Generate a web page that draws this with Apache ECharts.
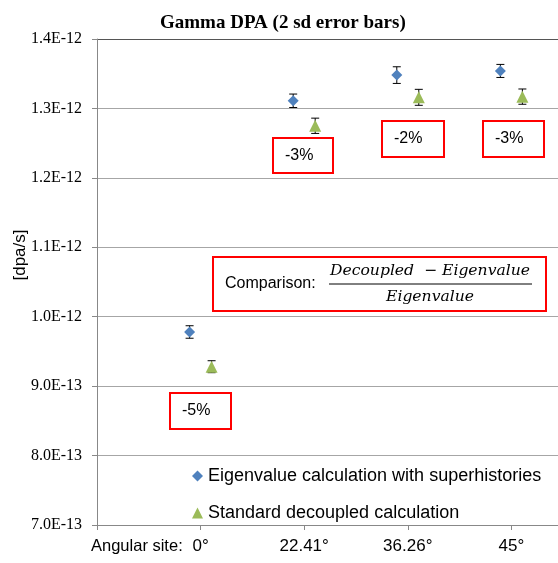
<!DOCTYPE html>
<html>
<head>
<meta charset="utf-8">
<script src="https://cdn.jsdelivr.net/npm/echarts@6/dist/echarts.min.js"></script>
<style>
  html, body { margin: 0; padding: 0; background: #fff; }
  #main { width: 558px; height: 563px; }
</style>
</head>
<body>
<div id="main"></div>
<script>
// angular sites (x categories, placed at 1..4 on the value axis)
var sites = ['0°', '22.41°', '36.26°', '45°'];
var siteX = [1, 2, 3, 4];

// dpa/s values, in units of 1E-12
var eigenValues = [0.978, 1.311, 1.348, 1.354];
var eigenErr = [0.009, 0.0097, 0.012, 0.0094];   // 2 sd
var decoupledValues = [0.928, 1.275, 1.316, 1.317];
var decoupledErr = [0.0086, 0.011, 0.0115, 0.011];

// relative difference (decoupled - eigenvalue) / eigenvalue
var diffLabels = ['-5%', '-3%', '-2%', '-3%'];

var UNIT = 1e-12;
var FONT_SANS = '"Liberation Sans", Arial, sans-serif';
var FONT_SERIF = '"Liberation Serif", "Times New Roman", serif';

var chart = echarts.init(document.getElementById('main'));

function pts(vals) {
  return vals.map(function (v, i) { return [siteX[i], v]; });
}
function bars(vals, errs) {
  return vals.map(function (v, i) { return [siteX[i], v - errs[i], v + errs[i]]; });
}

// error bar with caps, shifted sideways like the markers
function errorBar(shift) {
  return function (params, api) {
    var top = api.coord([api.value(0), api.value(2)]);
    var bot = api.coord([api.value(0), api.value(1)]);
    var x = top[0] + shift;
    var cap = 4;
    var st = { stroke: '#000', lineWidth: 1 };
    return {
      type: 'group',
      children: [
        { type: 'line', shape: { x1: x, y1: top[1], x2: x, y2: bot[1] }, style: st },
        { type: 'line', shape: { x1: x - cap, y1: top[1], x2: x + cap, y2: top[1] }, style: st },
        { type: 'line', shape: { x1: x - cap, y1: bot[1], x2: x + cap, y2: bot[1] }, style: st }
      ]
    };
  };
}

// red boxes with the % difference, box layout in pixels
var boxPos = [
  { x: 169, y: 392, w: 61, h: 36 },
  { x: 272, y: 137, w: 60, h: 35 },
  { x: 381, y: 120, w: 62, h: 36 },
  { x: 482, y: 120, w: 61, h: 36 }
];

var graphics = diffLabels.map(function (txt, i) {
  var b = boxPos[i];
  return {
    type: 'group',
    left: b.x, top: b.y,
    children: [
      { type: 'rect', shape: { x: 0, y: 0, width: b.w, height: b.h },
        style: { fill: '#fff', stroke: '#ff0000', lineWidth: 2 } },
      { type: 'text', x: 12, y: b.h / 2,
        style: { text: txt, font: '16px ' + FONT_SANS, fill: '#000', verticalAlign: 'middle' } }
    ]
  };
});

// comparison formula box
graphics.push({
  type: 'group',
  left: 212, top: 256,
  children: [
    { type: 'rect', shape: { x: 0, y: 0, width: 333, height: 54 },
      style: { fill: '#fff', stroke: '#ff0000', lineWidth: 2 } },
    { type: 'text', x: 12, y: 27,
      style: { text: 'Comparison:', font: '16px ' + FONT_SANS, fill: '#000', verticalAlign: 'middle' } },
    { type: 'text', x: 217, y: 14,
      style: { text: 'Decoupled  − Eigenvalue', font: 'italic 15.6px "DejaVu Serif", serif', fill: '#000',
               align: 'center', verticalAlign: 'middle' } },
    { type: 'line', shape: { x1: 116, y1: 27, x2: 319, y2: 27 },
      style: { stroke: '#000', lineWidth: 1 } },
    { type: 'text', x: 217, y: 40,
      style: { text: 'Eigenvalue', font: 'italic 15.6px "DejaVu Serif", serif', fill: '#000',
               align: 'center', verticalAlign: 'middle' } }
  ]
});

// "Angular site:" prefix in front of the first x label
graphics.push({
  type: 'text', left: 91, top: 538,
  style: { text: 'Angular site:', font: '16.5px ' + FONT_SANS, fill: '#000' }
});

var option = {
  animation: false,
  title: {
    text: 'Gamma DPA (2 sd error bars)',
    left: 155, top: 9,
    textStyle: { fontFamily: FONT_SERIF, fontWeight: 'bold', fontSize: 19, color: '#000' }
  },
  grid: { left: 97, top: 39, right: 0, bottom: 38, outerBoundsMode: 'none' },
  legend: {
    orient: 'vertical',
    left: 187, top: 461,
    itemWidth: 11, itemHeight: 11,
    itemGap: 17,
    data: [
      { name: 'Eigenvalue calculation with superhistories', icon: 'diamond' },
      { name: 'Standard decoupled calculation', icon: 'triangle' }
    ],
    textStyle: { fontFamily: FONT_SANS, fontSize: 18, color: '#000', lineHeight: 20 }
  },
  xAxis: {
    type: 'value',
    min: 0, max: 4.45, interval: 1,
    splitLine: { show: false },
    axisLine: { lineStyle: { color: '#888' } },
    axisTick: { length: 5, lineStyle: { color: '#888' } },
    axisLabel: {
      margin: 13,
      fontFamily: FONT_SANS, fontSize: 17, color: '#000',
      formatter: function (v) {
        var i = siteX.indexOf(v);
        return i >= 0 ? sites[i] : '';
      }
    }
  },
  yAxis: {
    type: 'value',
    min: 0.7, max: 1.4, interval: 0.1,
    name: '[dpa/s]',
    nameLocation: 'middle',
    nameGap: 68,
    nameMoveOverlap: false,
    nameTextStyle: { fontFamily: FONT_SANS, fontSize: 17, color: '#000', padding: [0, 0, 0, 54] },
    axisLine: { show: true, lineStyle: { color: '#888' } },
    axisTick: { show: true, length: 5, lineStyle: { color: '#888' } },
    splitLine: { lineStyle: { color: ['#a6a6a6', '#a6a6a6', '#a6a6a6', '#a6a6a6', '#a6a6a6', '#a6a6a6', '#a6a6a6', '#555'] } },
    axisLabel: {
      margin: 15,
      fontFamily: FONT_SERIF, fontSize: 16, color: '#000',
      formatter: function (v) {
        return (v * UNIT).toExponential(1).toUpperCase();
      }
    }
  },
  graphic: graphics,
  series: [
    {
      name: 'eigenErr', type: 'custom', z: 2,
      renderItem: errorBar(-11),
      data: bars(eigenValues, eigenErr),
      encode: { x: 0, y: [1, 2] }
    },
    {
      name: 'decoupledErr', type: 'custom', z: 2,
      renderItem: errorBar(11),
      data: bars(decoupledValues, decoupledErr),
      encode: { x: 0, y: [1, 2] }
    },
    {
      name: 'Eigenvalue calculation with superhistories',
      type: 'scatter', z: 3,
      symbol: 'diamond', symbolSize: 11, symbolOffset: [-11, 0],
      itemStyle: { color: '#4f81bd', opacity: 1 },
      data: pts(eigenValues)
    },
    {
      name: 'Standard decoupled calculation',
      type: 'scatter', z: 3,
      symbol: 'triangle', symbolSize: 12, symbolOffset: [11, 0],
      itemStyle: { color: '#9bbb59', opacity: 1 },
      data: pts(decoupledValues)
    }
  ]
};

chart.setOption(option);
</script>
</body>
</html>
